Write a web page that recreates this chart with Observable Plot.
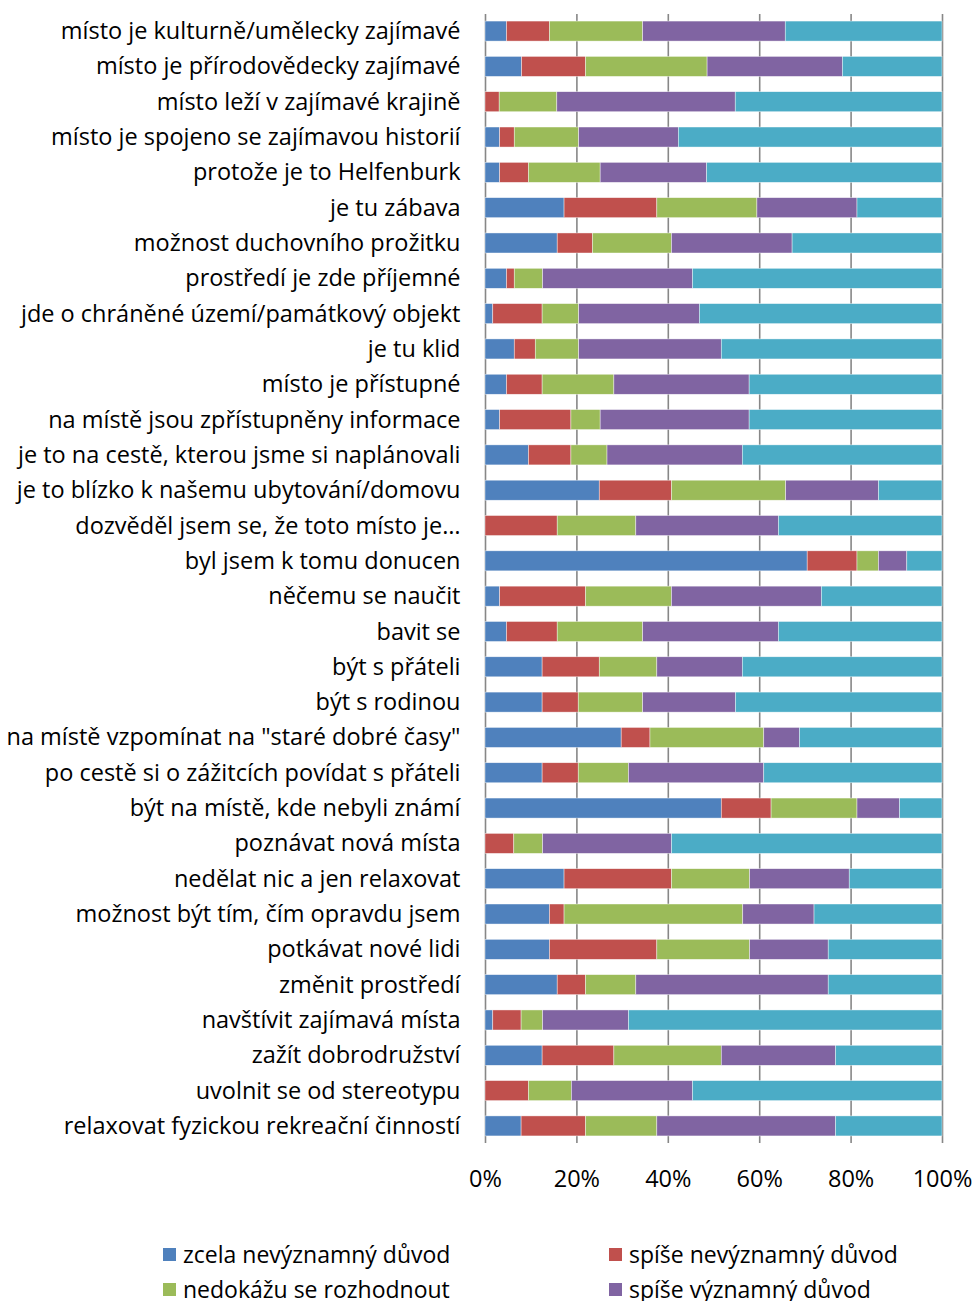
<!DOCTYPE html>
<html>
<head>
<meta charset="utf-8">
<script src="https://cdn.jsdelivr.net/npm/d3@7"></script>
<script src="https://cdn.jsdelivr.net/npm/@observablehq/plot@0.6"></script>
<style>
  body { margin: 0; background: #fff; }
  #wrap { position: relative; width: 974px; height: 1301px; overflow: hidden; font-family: "Open Sans", sans-serif; }
  .leg { position: absolute; display: flex; align-items: center; font-size: 23px; color: #000; white-space: nowrap; }
  .leg .sw { width: 13px; height: 13px; margin-right: 7px; }
</style>
</head>
<body>
<div id="wrap"></div>
<script>
const categories = [
  "místo je kulturně/umělecky zajímavé",
  "místo je přírodovědecky zajímavé",
  "místo leží v zajímavé krajině",
  "místo je spojeno se zajímavou historií",
  "protože je to Helfenburk",
  "je tu zábava",
  "možnost duchovního prožitku",
  "prostředí je zde příjemné",
  "jde o chráněné území/památkový objekt",
  "je tu klid",
  "místo je přístupné",
  "na místě jsou zpřístupněny informace",
  "je to na cestě, kterou jsme si naplánovali",
  "je to blízko k našemu ubytování/domovu",
  "dozvěděl jsem se, že toto místo je…",
  "byl jsem k tomu donucen",
  "něčemu se naučit",
  "bavit se",
  "být s přáteli",
  "být s rodinou",
  "na místě vzpomínat na \"staré dobré časy\"",
  "po cestě si o zážitcích povídat s přáteli",
  "být na místě, kde nebyli známí",
  "poznávat nová místa",
  "nedělat nic a jen relaxovat",
  "možnost být tím, čím opravdu jsem",
  "potkávat nové lidi",
  "změnit prostředí",
  "navštívit zajímavá místa",
  "zažít dobrodružství",
  "uvolnit se od stereotypu",
  "relaxovat fyzickou rekreační činností"
];

const seriesNames = [
  "zcela nevýznamný důvod",
  "spíše nevýznamný důvod",
  "nedokážu se rozhodnout",
  "spíše významný důvod",
  "zcela významný důvod"
];
const seriesColors = ["#4F81BD", "#C0504D", "#9BBB59", "#8064A2", "#4BACC6"];

const zcelaNevyznamny = [4.7, 8.0, 0, 3.2, 3.2, 17.3, 15.8, 4.7, 1.7, 6.4, 4.7, 3.2, 9.5, 25.0, 0, 70.5, 3.2, 4.7, 12.5, 12.5, 29.8, 12.5, 51.7, 0, 17.3, 14.1, 14.1, 15.8, 1.7, 12.5, 0, 7.9];
const spiseNevyznamny = [9.4, 14.0, 3.1, 3.2, 6.3, 20.3, 7.7, 1.7, 10.8, 4.6, 7.8, 15.6, 9.3, 15.8, 15.8, 10.9, 18.8, 11.1, 12.5, 7.9, 6.3, 7.9, 10.9, 6.3, 23.5, 3.2, 23.5, 6.2, 6.2, 15.7, 9.5, 14.1];
const nedokazu = [20.4, 26.6, 12.6, 14.1, 15.7, 21.9, 17.3, 6.2, 8.0, 9.5, 15.7, 6.4, 7.9, 25.0, 17.2, 4.7, 18.8, 18.7, 12.6, 14.1, 24.9, 11.0, 18.8, 6.3, 17.1, 39.1, 20.3, 11.0, 4.7, 23.5, 9.4, 15.6];
const spiseVyznamny = [31.2, 29.6, 39.0, 21.8, 23.3, 21.9, 26.4, 32.8, 26.4, 31.2, 29.6, 32.6, 29.6, 20.3, 31.2, 6.2, 32.8, 29.7, 18.7, 20.3, 7.8, 29.6, 9.3, 28.2, 21.8, 15.6, 17.2, 42.1, 18.8, 25.0, 26.5, 39.1];
const zcelaVyznamny = [34.3, 21.8, 45.2, 57.7, 51.5, 18.6, 32.8, 54.6, 53.1, 48.3, 42.2, 42.2, 43.7, 13.9, 35.8, 7.7, 26.4, 35.8, 43.7, 45.2, 31.2, 39.0, 9.3, 59.2, 20.3, 28.0, 24.9, 24.9, 68.6, 23.3, 54.6, 23.3];

const xTicks = [0, 0.2, 0.4, 0.6, 0.8, 1];

const seriesValues = [zcelaNevyznamny, spiseNevyznamny, nedokazu, spiseVyznamny, zcelaVyznamny];
const rows = [];
seriesNames.forEach((s, si) => {
  categories.forEach((c, ci) => rows.push({category: c, series: s, value: seriesValues[si][ci]}));
});

const chart = Plot.plot({
  width: 974,
  height: 1200,
  marginLeft: 485,
  marginRight: 32,
  marginTop: 14,
  marginBottom: 57,
  style: {fontFamily: "'Open Sans', sans-serif", fontSize: "23.5px", color: "#000", background: "#fff"},
  x: {domain: [0, 1], ticks: xTicks, tickFormat: d => Math.round(d * 100) + "%", tickSize: 0, tickPadding: 27, label: null},
  y: {domain: categories, paddingInner: 0.433, paddingOuter: 0.2, round: false, tickSize: 0, tickPadding: 25, label: null},
  color: {domain: seriesNames, range: seriesColors},
  marks: [
    Plot.ruleX(xTicks, {stroke: "#878787", strokeWidth: 1.6}),
    Plot.barX(rows, Plot.stackX({
      x: "value", y: "category", fill: "series", z: "series",
      order: seriesNames, offset: "normalize",
      stroke: "#ffffff", strokeWidth: 0.6, strokeOpacity: 0.7
    }))
  ]
});
const wrap = document.getElementById("wrap");
wrap.appendChild(chart);

const legendPos = [[163, 1254], [609, 1254], [163, 1289], [609, 1289], [163, 1324]];
seriesNames.forEach((s, i) => {
  const d = document.createElement("div");
  d.className = "leg";
  d.style.left = legendPos[i][0] + "px";
  d.style.top = (legendPos[i][1] - 14) + "px";
  d.style.height = "28px";
  const sw = document.createElement("span");
  sw.className = "sw";
  sw.style.background = seriesColors[i];
  d.appendChild(sw);
  d.appendChild(document.createTextNode(s));
  wrap.appendChild(d);
});
</script>
</body>
</html>
